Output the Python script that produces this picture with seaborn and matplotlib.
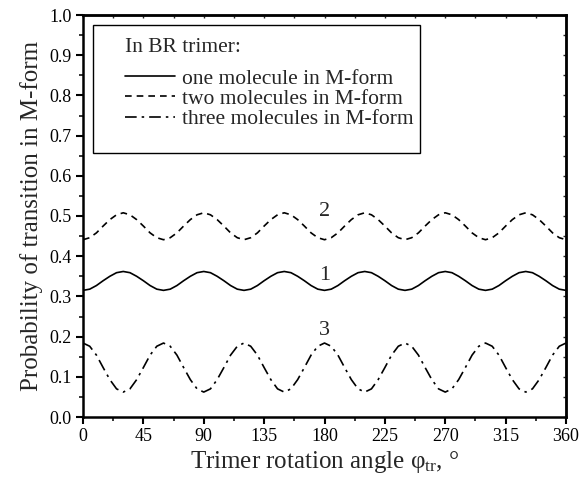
import matplotlib
matplotlib.use("Agg")
import matplotlib.pyplot as plt
import seaborn as sns
import pandas as pd
from matplotlib.ticker import MultipleLocator, FormatStrFormatter, NullFormatter
from matplotlib.patches import Rectangle

sns.set_style("ticks")
plt.rcParams['font.family'] = ['Liberation Serif', 'DejaVu Serif']
plt.rcParams['mathtext.fontset'] = 'custom'
plt.rcParams['mathtext.rm'] = 'Liberation Serif'
plt.rcParams['mathtext.it'] = 'Liberation Serif:italic'

# rotation angle, degrees (5 degree step)
angle = list(range(0, 361, 5))

# curve 1: one molecule in M-form
one_mol = [
    0.315, 0.318, 0.327, 0.339, 0.350, 0.359, 0.362, 0.359, 0.350, 0.339, 0.327, 0.318,
    0.315, 0.318, 0.327, 0.339, 0.350, 0.359, 0.362, 0.359, 0.350, 0.339, 0.327, 0.318,
    0.315, 0.318, 0.327, 0.339, 0.350, 0.359, 0.362, 0.359, 0.350, 0.339, 0.327, 0.318,
    0.315, 0.318, 0.327, 0.339, 0.350, 0.359, 0.362, 0.359, 0.350, 0.339, 0.327, 0.318,
    0.315, 0.318, 0.327, 0.339, 0.350, 0.359, 0.362, 0.359, 0.350, 0.339, 0.327, 0.318,
    0.315, 0.318, 0.327, 0.339, 0.350, 0.359, 0.362, 0.359, 0.350, 0.339, 0.327, 0.318,
    0.315,
]

# curve 2: two molecules in M-form
two_mol = [
    0.441, 0.446, 0.458, 0.475, 0.491, 0.503, 0.508, 0.503, 0.491, 0.475, 0.458, 0.446,
    0.441, 0.446, 0.458, 0.475, 0.491, 0.503, 0.508, 0.503, 0.491, 0.475, 0.458, 0.446,
    0.441, 0.446, 0.458, 0.475, 0.491, 0.503, 0.508, 0.503, 0.491, 0.475, 0.458, 0.446,
    0.441, 0.446, 0.458, 0.475, 0.491, 0.503, 0.508, 0.503, 0.491, 0.475, 0.458, 0.446,
    0.441, 0.446, 0.458, 0.475, 0.491, 0.503, 0.508, 0.503, 0.491, 0.475, 0.458, 0.446,
    0.441, 0.446, 0.458, 0.475, 0.491, 0.503, 0.508, 0.503, 0.491, 0.475, 0.458, 0.446,
    0.441,
]

# curve 3: three molecules in M-form
three_mol = [
    0.184, 0.176, 0.154, 0.123, 0.093, 0.070, 0.062, 0.070, 0.093, 0.123, 0.154, 0.176,
    0.184, 0.176, 0.154, 0.123, 0.093, 0.070, 0.062, 0.070, 0.093, 0.123, 0.154, 0.176,
    0.184, 0.176, 0.154, 0.123, 0.093, 0.070, 0.062, 0.070, 0.093, 0.123, 0.154, 0.176,
    0.184, 0.176, 0.154, 0.123, 0.093, 0.070, 0.062, 0.070, 0.093, 0.123, 0.154, 0.176,
    0.184, 0.176, 0.154, 0.123, 0.093, 0.070, 0.062, 0.070, 0.093, 0.123, 0.154, 0.176,
    0.184, 0.176, 0.154, 0.123, 0.093, 0.070, 0.062, 0.070, 0.093, 0.123, 0.154, 0.176,
    0.184,
]

series_names = ["one molecule in M-form", "two molecules in M-form", "three molecules in M-form"]
curve_tags = ["1", "2", "3"]
tag_x = [180, 180, 180]
tag_y = [0.353, 0.51, 0.216]

df = pd.DataFrame({"angle": angle, series_names[0]: one_mol,
                   series_names[1]: two_mol, series_names[2]: three_mol})

fig = plt.figure(figsize=(5.88, 4.87), dpi=100)
ax = fig.add_axes([83 / 588, 1 - 417 / 487, 483 / 588, 402 / 487])

styles = ["-", (0, (4, 3)), (0, (7, 3, 1.5, 3))]
for name, ls in zip(series_names, styles):
    sns.lineplot(data=df, x="angle", y=name, ax=ax, color="black",
                 linewidth=1.2, linestyle=ls, label=name)

for t, xx, yy in zip(curve_tags, tag_x, tag_y):
    ax.text(xx, yy, t, fontsize=16, ha="center", va="center")

ax.set_xlim(0, 360)
ax.set_ylim(0, 1.0)
ax.xaxis.set_major_locator(MultipleLocator(45))
ax.xaxis.set_minor_locator(MultipleLocator(22.5))
ax.yaxis.set_major_locator(MultipleLocator(0.1))
ax.yaxis.set_minor_locator(MultipleLocator(0.05))
ax.yaxis.set_major_formatter(FormatStrFormatter("%.1f"))

for s in ax.spines.values():
    s.set_linewidth(1.8)
    s.set_color("black")
ax.tick_params(which="major", direction="out", length=5, width=1.5,
               labelsize=13, colors="black", pad=3)
ax.tick_params(which="minor", direction="out", length=3, width=1.3)

# tiny inward ticks on the top and right frame
top = ax.secondary_xaxis("top")
right = ax.secondary_yaxis("right")
for sec, maj, mnr in [(top, 45, 22.5), (right, 0.1, 0.05)]:
    sec.xaxis.set_major_locator(MultipleLocator(maj)) if sec is top else sec.yaxis.set_major_locator(MultipleLocator(maj))
    if sec is top:
        sec.xaxis.set_minor_locator(MultipleLocator(mnr))
        sec.xaxis.set_major_formatter(NullFormatter())
    else:
        sec.yaxis.set_minor_locator(MultipleLocator(mnr))
        sec.yaxis.set_major_formatter(NullFormatter())
    sec.tick_params(which="both", direction="in", length=2, width=1.0)
    for s in sec.spines.values():
        s.set_linewidth(1.8)

ax.set_xlabel(r"Trimer rotation angle φ$_{\rm tr}$, °", fontsize=18, labelpad=3)
ax.set_ylabel("Probability of transition in M-form", fontsize=18, labelpad=5)

# legend box drawn by hand, entries from the line handles
ax.add_patch(Rectangle((0.020, 0.657), 0.678, 0.318, transform=ax.transAxes,
                       fill=False, edgecolor="black", linewidth=1.0, zorder=5))
ax.text(0.087, 0.920, "In BR trimer:", transform=ax.transAxes,
        fontsize=15.5, ha="left", va="center")
leg = ax.legend(loc="upper left", bbox_to_anchor=(0.087, 0.866), frameon=False,
                fontsize=15.5, handlelength=2.3, handletextpad=0.35,
                labelspacing=0.0, borderpad=0.0, borderaxespad=0.0)

fig.savefig("out.png", dpi=100)
